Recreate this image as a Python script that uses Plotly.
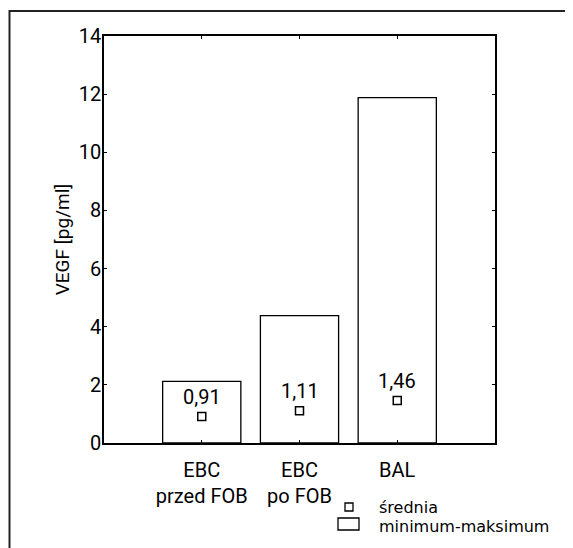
import plotly.graph_objects as go

categories = ["EBC<br>przed FOB", "EBC<br>po FOB", "BAL"]
minimum = [0.0, 0.0, 0.0]
maximum = [2.12, 4.38, 11.88]
mean = [0.91, 1.11, 1.46]
mean_labels = ["0,91", "1,11", "1,46"]
y_ticks = [0, 2, 4, 6, 8, 10, 12, 14]

FONT = "Roboto, Liberation Sans, sans-serif"
xpos = list(range(len(categories)))

fig = go.Figure()
fig.add_trace(go.Bar(
    x=xpos, y=[mx - mn for mx, mn in zip(maximum, minimum)], base=minimum,
    width=0.8, marker=dict(color="white", line=dict(color="black", width=1.3)),
    showlegend=False, hoverinfo="skip",
))
fig.add_trace(go.Scatter(
    x=xpos, y=mean, mode="markers",
    marker=dict(symbol="square-open", size=8, color="black", line=dict(width=1.5)),
    showlegend=False,
))
for x, m, lab in zip(xpos, mean, mean_labels):
    fig.add_annotation(x=x, y=m, text=lab, showarrow=False, yshift=20,
                       font=dict(family=FONT, size=20, color="black"))

# helpers: reference-pixel -> paper coordinates (plot area 104..495 x, 36..443 y)
def px(xp):
    return (xp - 104) / 391
def py(yp):
    return (443 - yp) / 407

# legend drawn manually
fig.add_shape(type="rect", xref="paper", yref="paper", x0=px(345), x1=px(353), y0=py(511), y1=py(503),
              line=dict(color="black", width=1.3), fillcolor="white")
fig.add_shape(type="rect", xref="paper", yref="paper", x0=px(338), x1=px(359), y0=py(530), y1=py(518),
              line=dict(color="black", width=1.3), fillcolor="white")
LEGFONT = "DejaVu Sans, sans-serif"
fig.add_annotation(xref="paper", yref="paper", x=px(377), y=py(507), text="średnia", showarrow=False,
                   xanchor="left", yanchor="middle", font=dict(family=LEGFONT, size=16, color="black"))
fig.add_annotation(xref="paper", yref="paper", x=px(377), y=py(526), text="minimum-maksimum", showarrow=False,
                   xanchor="left", yanchor="middle", font=dict(family=LEGFONT, size=16, color="black"))

# outer frame
fig.add_shape(type="rect", xref="paper", yref="paper", x0=px(9.5), x1=px(640), y0=py(640), y1=py(11),
              line=dict(color="#222", width=2), fillcolor="rgba(0,0,0,0)", layer="below")

axis_common = dict(showline=True, linecolor="black", linewidth=1.5, mirror="allticks",
                   ticks="inside", ticklen=3, tickcolor="black", showgrid=False, zeroline=False,
                   tickfont=dict(family=FONT, size=20, color="black"))
fig.update_xaxes(range=[-1, 3], tickvals=xpos, ticktext=categories, ticklabelstandoff=8, **axis_common)
fig.update_yaxes(range=[0, 14], tickvals=y_ticks, ticktext=[str(v) for v in y_ticks],
                 title=dict(text="VEGF [pg/ml]", font=dict(family=FONT, size=19, color="black"), standoff=4),
                 ticklabelstandoff=-3, **axis_common)
fig.update_layout(width=565, height=540, margin=dict(l=96, r=78, t=28, b=105),
                  plot_bgcolor="white", paper_bgcolor="white", font=dict(family=FONT))
fig.write_html("out.html")
